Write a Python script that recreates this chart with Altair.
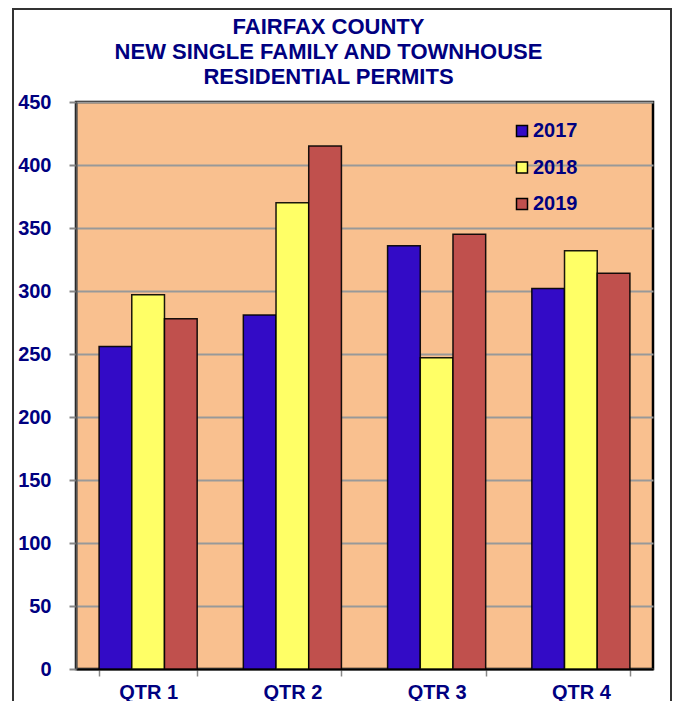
import altair as alt
import pandas as pd

quarters = ["QTR 1", "QTR 2", "QTR 3", "QTR 4"]
years = ["2017", "2018", "2019"]
permits_2017 = [256, 281, 336, 302]
permits_2018 = [297, 370, 247, 332]
permits_2019 = [278, 415, 345, 314]
y_ticks = [0, 50, 100, 150, 200, 250, 300, 350, 400, 450]
colors = ["#330BC6", "#FFFF66", "#C0504D"]
title_lines = ["FAIRFAX COUNTY", "NEW SINGLE FAMILY AND TOWNHOUSE", "RESIDENTIAL PERMITS"]

rows = []
for yr, vals in zip(years, [permits_2017, permits_2018, permits_2019]):
    for q, v in zip(quarters, vals):
        rows.append({"Quarter": q, "Year": yr, "Permits": v})
df = pd.DataFrame(rows)

FONT = "Liberation Sans, Arial, sans-serif"
NAVY = "#000080"

bars = alt.Chart(df).mark_bar(stroke="black", strokeWidth=1.5, strokeOpacity=0.9).encode(
    x=alt.X("Quarter:N", sort=quarters,
            scale=alt.Scale(paddingInner=0.32, paddingOuter=0.16),
            axis=alt.Axis(title=None, labelAngle=0, tickBand="extent", tickSize=7,
                          tickColor="#888888", tickWidth=1.5, domainColor="black",
                          domainWidth=2, labelPadding=6, labelFont=FONT,
                          labelFontSize=20, labelFontWeight="bold", labelColor=NAVY,
                          grid=False)),
    xOffset=alt.XOffset("Year:N", sort=years, scale=alt.Scale(paddingInner=0, paddingOuter=0)),
    y=alt.Y("Permits:Q", scale=alt.Scale(domain=[0, 450], nice=False),
            axis=alt.Axis(title=None, values=y_ticks, grid=True, gridColor="#999999",
                          gridWidth=2, tickColor="#888888", tickWidth=2, tickSize=7,
                          labelPadding=18, labelFont=FONT, labelFontSize=20,
                          labelFontWeight="bold", labelColor=NAVY,
                          domainColor="#555555", domainWidth=2)),
    color=alt.Color("Year:N", sort=years,
                    scale=alt.Scale(domain=years, range=colors),
                    legend=alt.Legend(title=None, orient="none", legendX=436, legendY=19,
                                      symbolType="square", symbolSize=121,
                                      symbolStrokeColor="black", symbolStrokeWidth=1.5,
                                      symbolOpacity=1, labelFont=FONT, labelFontSize=20,
                                      labelFontWeight="bold", labelColor=NAVY,
                                      labelOffset=1, rowPadding=16.5, padding=0)),
)

frame = alt.Chart(pd.DataFrame({"f": [0]})).mark_rect(
    fillOpacity=0, stroke="#333333", strokeWidth=2
).encode(x=alt.value(-63), x2=alt.value(595), y=alt.value(-93), y2=alt.value(640))

chart = alt.layer(frame, bars).properties(
    width=577, height=567,
    title=alt.TitleParams(text=title_lines, font=FONT, fontSize=22, fontWeight="bold",
                          color=NAVY, anchor="middle", frame="group", dx=-36, dy=96,
                          offset=15, lineHeight=25),
    autosize=alt.AutoSizeParams(type="none"),
    padding={"left": 68, "top": 94, "right": 19, "bottom": 32},
    background="white",
).configure_view(fill="#F9C08F", stroke="black", strokeWidth=2.5)

chart.save("out.html", embed_options={"renderer": "svg", "actions": False})
